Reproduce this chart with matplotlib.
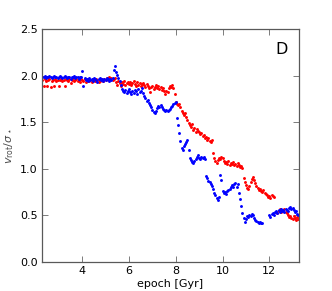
import numpy as np
import matplotlib
matplotlib.use('Agg')
import matplotlib.pyplot as plt

nan = np.nan

# snapshot epochs [Gyr], regular 0.05 Gyr spacing
epoch = np.linspace(2.3, 13.3, 221)

# v_rot / sigma_* (blue run)
ratio_blue = [
    1.99, 1.98, 2.00, 1.97, 1.99, 1.98, 2.00, 1.99, 1.97, 1.98, 2.00, 1.98, 1.99, 1.97,
    1.98, 2.00, 1.99, 1.97, 1.98, 2.00, 1.98, 1.97, 1.99, 1.98, 1.96, 1.99, 1.98, 2.00, 1.97, 1.99, 1.98, 1.96, 1.98, 1.99,
    2.05, 1.89, 1.97, 1.95, 1.96, 1.94, 1.97, 1.95, 1.96, 1.94, 1.97, 1.96, 1.95, 1.93, 1.96, 1.97, 1.95, 1.96, 1.94, 1.96,
    1.95, 1.97, 1.96, 1.94, 1.96, 1.95, 1.97, 2.06, 2.10, 2.04, 2.01, 1.97, 1.94, 1.90, 1.86, 1.84, 1.82, 1.85, 1.81, 1.83,
    1.86, 1.82, 1.80, 1.84, 1.81, 1.85, 1.83, 1.80, 1.86, 1.82, 1.84, 1.87, 1.81, 1.78, 1.76, 1.73, 1.74, 1.71, 1.68, 1.66,
    1.63, 1.61, 1.60, 1.62, 1.65, 1.67, 1.66, 1.68, 1.66, 1.64, 1.63, 1.62, 1.63, 1.62, 1.63, 1.64, 1.66, 1.67, 1.69, 1.71,
    1.72, 1.55, 1.47, 1.38, 1.30, 1.22, 1.20, 1.24, 1.27, 1.29, 1.31, 1.20, 1.12, 1.09, 1.07, 1.06, 1.08, 1.10, 1.13, 1.15,
    1.12, 1.11, 1.13, 1.12, 1.13, 1.11, 0.92, 0.90, 0.87, 0.86, 0.84, 0.82, 0.78, 0.74, 0.72, 0.69, 0.66, 0.70, 0.93, 0.88,
    0.76, 0.74, 0.75, 0.73, 0.76, 0.77, 0.78, 0.80, 0.83, 0.81, 0.84, 0.85, 0.80, 0.84, 0.74, 0.68, 0.60, 0.53, 0.47, 0.43,
    0.46, 0.49, 0.48, 0.50, 0.49, 0.52, 0.50, 0.47, 0.45, 0.44, 0.43, 0.42, 0.43, 0.42, 0.42, nan, nan, nan, nan, nan,
    0.50, 0.48, 0.51, 0.53, 0.50, 0.54, 0.55, 0.53, 0.56, 0.54, 0.57, 0.55, 0.56, 0.54, 0.57, 0.56, 0.55, 0.58, 0.59, 0.57,
    0.58, 0.56, 0.54, 0.55, 0.52, 0.50, 0.49,
]

# v_rot / sigma_* (red run)
ratio_red = [
    1.95, 1.89, 1.96, 1.94, 1.89, 1.95, 1.96, 1.88, 1.94, 1.95, 1.89, 1.96, 1.94, 1.95,
    1.89, 1.95, 1.96, 1.94, 1.95, 1.89, 1.96, 1.95, 1.94, 1.96, 1.92, 1.95, 1.97, 1.94, 1.95, 1.96, 1.94, 1.95, 1.93, 1.96,
    1.95, 1.94, 1.96, 1.93, 1.95, 1.96, 1.94, 1.95, 1.93, 1.96, 1.95, 1.94, 1.96, 1.95, 1.93, 1.94, 1.96, 1.95, 1.94, 1.96,
    1.95, 1.97, 1.96, 1.98, 1.96, 1.97, 1.95, 1.96, 1.97, 1.93, 1.90, 1.94, 1.92, 1.89, 1.93, 1.91, 1.94, 1.90, 1.92, 1.93,
    1.91, 1.93, 1.90, 1.92, 1.94, 1.91, 1.89, 1.93, 1.90, 1.92, 1.89, 1.91, 1.92, 1.90, 1.88, 1.91, 1.89, 1.87, 1.82, 1.88,
    1.89, 1.86, 1.88, 1.90, 1.87, 1.89, 1.86, 1.88, 1.85, 1.87, 1.83, 1.80, 1.84, 1.82, 1.87, 1.89, 1.88, 1.90, 1.87, 1.80,
    1.72, 1.70, 1.68, 1.70, 1.66, 1.62, 1.60, 1.58, 1.60, 1.56, 1.52, 1.49, 1.47, 1.45, 1.48, 1.42, 1.44, 1.40, 1.43, 1.41,
    1.39, 1.37, 1.38, 1.35, 1.36, 1.33, 1.34, 1.31, 1.33, 1.30, 1.29, 1.31, 1.17, 1.12, 1.08, 1.06, 1.09, 1.12, 1.10, 1.13,
    1.12, 1.08, 1.06, 1.07, 1.05, 1.08, 1.04, 1.06, 1.05, 1.07, 1.04, 1.05, 1.03, 1.06, 1.04, 1.02, 1.03, 1.01, 0.90, 0.86,
    0.83, 0.79, 0.78, 0.82, 0.86, 0.89, 0.91, 0.88, 0.85, 0.82, 0.79, 0.77, 0.78, 0.76, 0.75, 0.77, 0.74, 0.73, 0.72, 0.70,
    0.71, 0.69, 0.72, 0.71, 0.70, nan, 0.54, 0.53, 0.55, 0.57, 0.54, 0.56, 0.55, 0.57, 0.54, 0.53, 0.50, 0.48, 0.49, 0.47,
    0.46, 0.49, 0.47, 0.45, 0.48, 0.46, 0.47,
]

fig = plt.figure(figsize=(3.32, 2.91), dpi=100)
ax = fig.add_axes([0.1265, 0.0997, 0.774, 0.8006])

ax.plot(epoch, ratio_red, 'o', color='red', ms=2.1, mew=0, ls='none')
ax.plot(epoch, ratio_blue, 'o', color='blue', ms=2.1, mew=0, ls='none')

ax.set_xlim(2.28, 13.27)
ax.set_ylim(0.0, 2.5)
ax.set_xticks([4, 6, 8, 10, 12])
ax.set_yticks([0.0, 0.5, 1.0, 1.5, 2.0, 2.5])
ax.tick_params(direction='in', top=True, right=True, length=4, width=0.6,
               color='0.4', labelsize=8, pad=3)
for s in ax.spines.values():
    s.set_color('0.35')
    s.set_linewidth(0.9)

ax.set_xlabel('epoch [Gyr]', fontsize=8, labelpad=2)
ax.set_ylabel(r'$v_{\rm rot}/\sigma_\star$', fontsize=8, color='0.3', labelpad=3)
ax.text(0.955, 0.945, 'D', transform=ax.transAxes, ha='right', va='top', fontsize=11.5)

fig.savefig('out.png', dpi=100)
